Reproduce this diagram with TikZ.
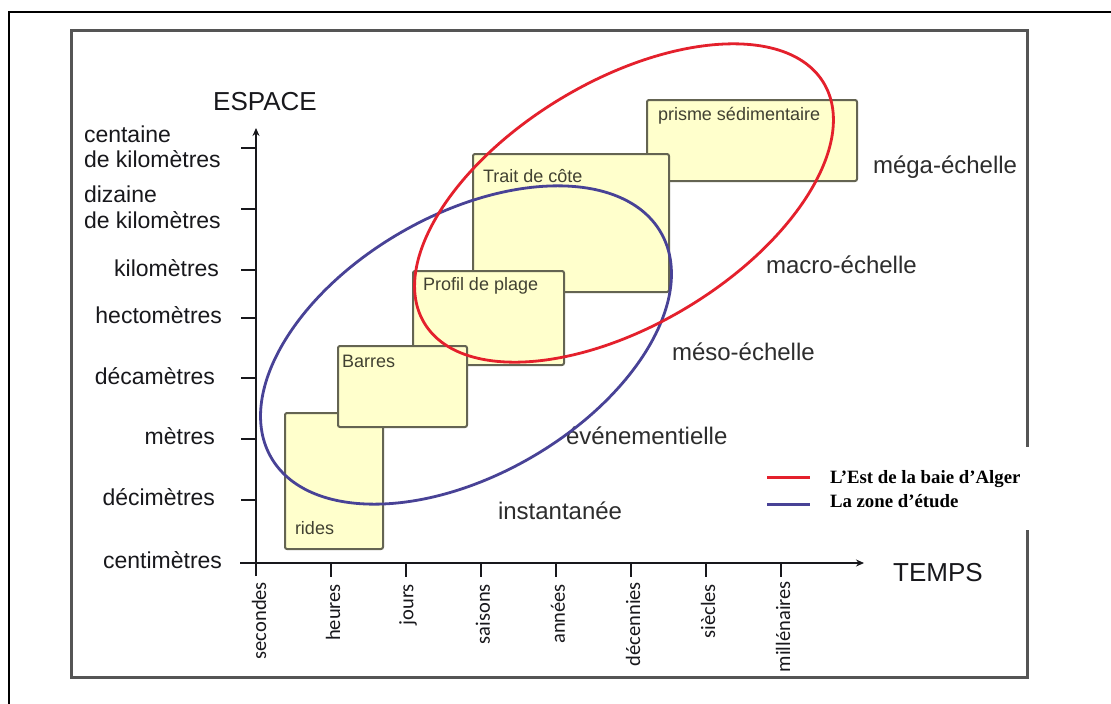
\documentclass[tikz,border=0pt]{standalone}
\usepackage{fontspec}
\setmainfont{Liberation Sans}
\newfontfamily\tickfont{Carlito}
\newfontfamily\legendfont{Liberation Serif}
\usetikzlibrary{arrows.meta}
\definecolor{boxfill}{RGB}{255,255,204}
\definecolor{boxline}{RGB}{100,100,82}
\definecolor{framegray}{RGB}{85,85,85}
\definecolor{ellred}{RGB}{228,32,44}
\definecolor{ellblue}{RGB}{72,66,150}
\definecolor{inkdark}{RGB}{24,24,28}
\definecolor{scalegray}{RGB}{45,45,45}
\definecolor{boxtext}{RGB}{65,65,50}
\begin{document}
\begin{tikzpicture}[x=1pt,y=-1pt,
  every node/.style={inner sep=0pt, outer sep=0pt},
  axisline/.style={line width=2.2pt, draw=inkdark, -{Stealth[length=8pt,width=7pt]}},
  tickline/.style={line width=2pt, draw=inkdark},
  ylab/.style={anchor=base east, text=inkdark, font=\fontsize{23}{25}\selectfont},
  ylabw/.style={anchor=base west, text=inkdark, font=\fontsize{23}{25}\selectfont},
  axtitle/.style={text=inkdark, font=\fontsize{26}{28}\selectfont},
  tlab/.style={rotate=90, anchor=east, text=inkdark, font=\tickfont\fontsize{20.5}{22}\selectfont},
  scalelab/.style={anchor=base west, text=scalegray, font=\fontsize{24}{26}\selectfont},
  band/.style={fill=boxfill, draw=boxline, line width=2pt, rounded corners=2pt},
  bandlab/.style={anchor=base west, text=boxtext, font=\fontsize{18}{20}\selectfont},
  zone/.style={line width=2.8pt},
  legline/.style={line width=3pt},
  leglab/.style={anchor=base west, text=black, font=\legendfont\bfseries\fontsize{18.8}{20}\selectfont},
]
\useasboundingbox (0,0) rectangle (1111,704);
\fill[white] (0,0) rectangle (1111,704);

% outer page frame (left and top sides)
\draw[line width=2.5pt, black] (9,710) -- (9,12) -- (1120,12);

% inner figure frame
\draw[line width=3pt, framegray] (71,30) rectangle (1027,677);

% axes
\coordinate (ybot) at (256,576);
\coordinate (ytop) at (256,128);
\coordinate (xleft) at (240,563);
\coordinate (xright) at (864,563);
\draw[axisline] (ybot) -- (ytop);
\draw[axisline] (xleft) -- (xright);

% space ticks
\foreach \yy/\nm in {148/c1,209/c2,270/c3,318/c4,378/c5,439/c6,500/c7} {
  \coordinate (yt\nm) at (241,\yy);
  \coordinate (ya\nm) at (256,\yy);
  \draw[tickline] (yt\nm) -- (ya\nm);
}

% time ticks
\foreach \xx/\nm in {331/t2,406/t3,481/t4,556/t5,631/t6,706/t7,781/t8} {
  \coordinate (xa\nm) at (\xx,563);
  \coordinate (xt\nm) at (\xx,577);
  \draw[tickline] (xa\nm) -- (xt\nm);
}

% axis titles
\node[axtitle] (espace) at (265,102) {ESPACE};
\node[axtitle] (temps) at (938,573) {TEMPS};

% space labels
\node[ylabw] (l1a) at (84,142) {centaine};
\node[ylabw] (l1b) at (84,167) {de kilomètres};
\node[ylabw] (l2a) at (84,202) {dizaine};
\node[ylabw] (l2b) at (84,228) {de kilomètres};
\node[ylab] (l3) at (219,276) {kilomètres};
\node[ylab] (l4) at (222,323) {hectomètres};
\node[ylab] (l5) at (215,384) {décamètres};
\node[ylab] (l6) at (215,444) {mètres};
\node[ylab] (l7) at (215,505) {décimètres};
\node[ylab] (l8) at (222,568) {centimètres};

% time labels
\node[tlab] (s1) at (259,582) {secondes};
\node[tlab] (s2) at (333,584) {heures};
\node[tlab] (s3) at (408,584) {jours};
\node[tlab] (s4) at (483,584) {saisons};
\node[tlab] (s5) at (558,584) {années};
\node[tlab] (s6) at (633,582) {décennies};
\node[tlab] (s7) at (708,584) {siècles};
\node[tlab] (s8) at (783,581) {millénaires};

% phenomenon bands
\draw[band] (285,413) rectangle (383,549);
\draw[band] (647,100) rectangle (857,181);
\draw[band] (473,154) rectangle (669,292);
\draw[band] (413,271) rectangle (564,365);
\draw[band] (338,346) rectangle (467,427);

\node[bandlab] (rides) at (295,534) {rides};
\node[bandlab] (barres) at (342,367) {Barres};
\node[bandlab] (profil) at (423,290) {Profil de plage};
\node[bandlab] (trait) at (483,182) {Trait de côte};
\node[bandlab] (prisme) at (658,120) {prisme sédimentaire};

% scale names
\node[scalelab] (mega) at (873,173) {méga-échelle};
\node[scalelab] (macro) at (766,273) {macro-échelle};
\node[scalelab] (meso) at (672,360) {méso-échelle};
\node[scalelab] (even) at (566,444) {événementielle};
\node[scalelab] (inst) at (498,519) {instantanée};

% study areas
\coordinate (cblue) at (466,345);
\coordinate (cred) at (624,203);
\draw[zone, ellblue] (cblue) circle [x radius=225pt, y radius=130pt, rotate=30];
\draw[zone, ellred] (cred) circle [x radius=233pt, y radius=122pt, rotate=31];

% legend
\fill[white] (747,447) rectangle (1040,530);
\coordinate (lr1) at (767,477);
\coordinate (lr2) at (810,477);
\coordinate (lb1) at (767,504);
\coordinate (lb2) at (810,504);
\draw[legline, ellred] (lr1) -- (lr2);
\draw[legline, ellblue] (lb1) -- (lb2);
\node[leglab] (legred) at (830,483) {L’Est de la baie d’Alger};
\node[leglab] (legblue) at (830,507) {La zone d’étude};
\end{tikzpicture}
\end{document}
